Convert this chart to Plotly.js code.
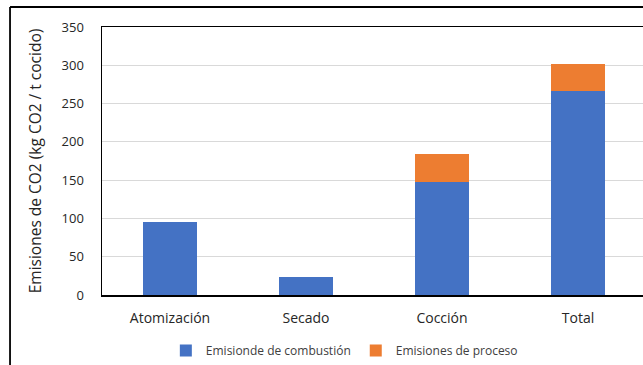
<!DOCTYPE html>
<html>
<head>
<meta charset="utf-8">
<script src="https://cdn.plot.ly/plotly-3.0.1.min.js"></script>
<style>
  html, body { margin: 0; padding: 0; background: #fff; }
  #chart { width: 643px; height: 365px; }
</style>
</head>
<body>
<div id="chart"></div>
<script>
const categories = ["Atomización", "Secado", "Cocción", "Total"];
const combustion = [95, 23, 148, 267];
const proceso = [0, 0, 36, 35];
const seriesNames = ["Emisionde de combustión", "Emisiones de proceso"];
const yTicks = [0, 50, 100, 150, 200, 250, 300, 350];

const FONT = "Open Sans, Noto Sans, sans-serif";

const traces = [
  {
    type: "bar", x: categories, y: combustion, name: seriesNames[0],
    marker: { color: "#4472C4" }, hoverinfo: "y"
  },
  {
    type: "bar", x: categories, y: proceso, name: seriesNames[1],
    marker: { color: "#ED7D31" }, hoverinfo: "y"
  }
];

const layout = {
  width: 643, height: 365,
  margin: { l: 102, r: 0, t: 27, b: 70 },
  paper_bgcolor: "#ffffff", plot_bgcolor: "#ffffff",
  barmode: "stack",
  bargap: 0.6,
  font: { family: FONT, color: "#262626" },
  showlegend: true,
  legend: {
    orientation: "h", x: 0.118, xanchor: "left", y: -0.209, yanchor: "middle",
    font: { size: 12, family: FONT, color: "#404040" },
    itemwidth: 30, traceorder: "normal"
  },
  xaxis: {
    type: "category",
    range: [-0.5, 3.478],
    showline: true, linecolor: "#000000", linewidth: 1.5, mirror: true,
    showgrid: false, zeroline: false,
    ticks: "", ticklabelstandoff: 10,
    tickfont: { size: 14, family: FONT, color: "#262626" }
  },
  yaxis: {
    range: [0, 350],
    tickvals: yTicks,
    showline: true, linecolor: "#000000", linewidth: 1.5, mirror: true,
    showgrid: true, gridcolor: "#d9d9d9", gridwidth: 1,
    zeroline: false, ticks: "", ticklabelstandoff: 14,
    tickfont: { size: 13, family: FONT, color: "#262626" },
    title: {
      text: "Emisiones de CO2 (kg CO2 / t cocido)",
      font: { size: 15.5, family: FONT, color: "#262626" },
      standoff: 16
    },
    automargin: false
  },
  shapes: [
    { type: "line", xref: "paper", yref: "paper", x0: -0.17, x1: -0.17, y0: 1.0746, y1: -0.27,
      line: { color: "#000000", width: 1.8 } },
    { type: "line", xref: "paper", yref: "paper", x0: -0.17, x1: 1.01, y0: 1.0746, y1: 1.0746,
      line: { color: "#000000", width: 1.8 } }
  ]
};

Plotly.newPlot("chart", traces, layout, { displayModeBar: false, staticPlot: true });
</script>
</body>
</html>
